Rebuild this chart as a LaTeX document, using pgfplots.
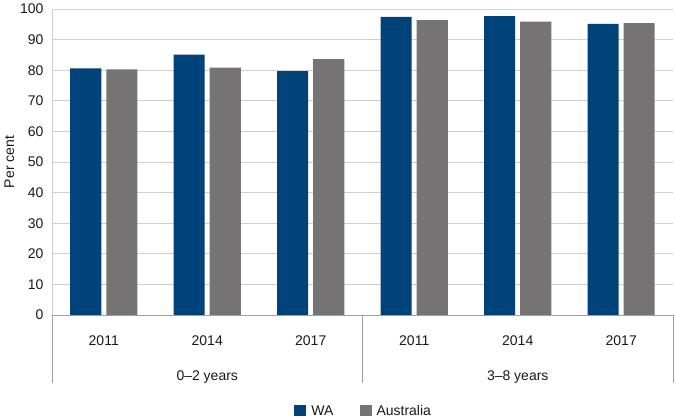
\documentclass[border=0pt]{standalone}
\usepackage{pgfplots}
\pgfplotsset{compat=1.18}
\usepackage{fontspec}
\setmainfont{Liberation Sans}
\definecolor{wa}{RGB}{0,66,122}
\definecolor{aus}{RGB}{117,115,116}
\definecolor{gridc}{RGB}{208,208,208}
\definecolor{axc}{RGB}{160,160,160}
\definecolor{txt}{RGB}{25,25,25}
\begin{document}
\begin{tikzpicture}[x=1pt,y=1pt]
\useasboundingbox (0,0) rectangle (675,420);
\begin{axis}[
  at={(52pt,105pt)}, anchor=south west,
  width=621pt, height=306pt, scale only axis,
  xmin=-0.5, xmax=5.5, ymin=0, ymax=100,
  axis lines*=left,
  x axis line style={draw=axc, line width=0.8pt},
  y axis line style={draw=gridc, line width=0.8pt},
  ybar, bar width=31pt,
  ytick={0,10,...,100},
  ymajorgrids, grid style={draw=gridc, line width=0.8pt},
  major y tick style={draw=none},
  xtick={0,1,2,3,4,5},
  xticklabels={2011,2014,2017,2011,2014,2017},
  major x tick style={draw=none},
  extra x ticks={0.5,1.5,2.5,3.5,4.5},
  extra x tick labels={},
  extra x tick style={major tick length=8pt, tick align=inside, tick style={draw=axc, line width=0.8pt}, grid=none},
  /pgf/number format/assume math mode=true,
  tick label style={font=\fontsize{14}{16}\selectfont, text=txt},
  yticklabel style={xshift=-5pt},
  xticklabel style={yshift=-13pt},
  ylabel={Per cent},
  ylabel style={font=\fontsize{14}{16}\selectfont, text=txt, at={(axis description cs:0,0.5)}, anchor=center, yshift=42.5pt},
  clip=false,
  legend style={at={(axis description cs:0.502,-0.3137)}, anchor=center, draw=none, fill=none,
    legend columns=2, font=\fontsize{14}{16}\selectfont, text=txt,
    /tikz/every odd column/.append style={column sep=3pt},
    /tikz/every even column/.append style={column sep=24pt}},
  legend image code/.code={\fill[#1] (0pt,-5.5pt) rectangle (12pt,5.5pt);},
]
\addplot[fill=wa, draw=none, bar shift=-18pt] coordinates {(0,80.6) (1,85.1) (2,79.7) (3,97.4) (4,97.7) (5,95.1)};
\addlegendentry{WA}
\addplot[fill=aus, draw=none, bar shift=18pt] coordinates {(0,80.3) (1,80.8) (2,83.6) (3,96.4) (4,95.9) (5,95.4)};
\addlegendentry{Australia}
\draw[axc, line width=0.8pt] (axis cs:-0.5,0) -- ([yshift=-68pt]axis cs:-0.5,0);
\draw[axc, line width=0.8pt] (axis cs:2.5,0) -- ([yshift=-68pt]axis cs:2.5,0);
\draw[axc, line width=0.8pt] (axis cs:5.5,0) -- ([yshift=-68pt]axis cs:5.5,0);
\node[font=\fontsize{14}{16}\selectfont, text=txt, anchor=center] at (axis cs:1,0) [yshift=-62pt] {0–2 years};
\node[font=\fontsize{14}{16}\selectfont, text=txt, anchor=center] at (axis cs:4,0) [yshift=-62pt] {3–8 years};
\end{axis}
\end{tikzpicture}
\end{document}
